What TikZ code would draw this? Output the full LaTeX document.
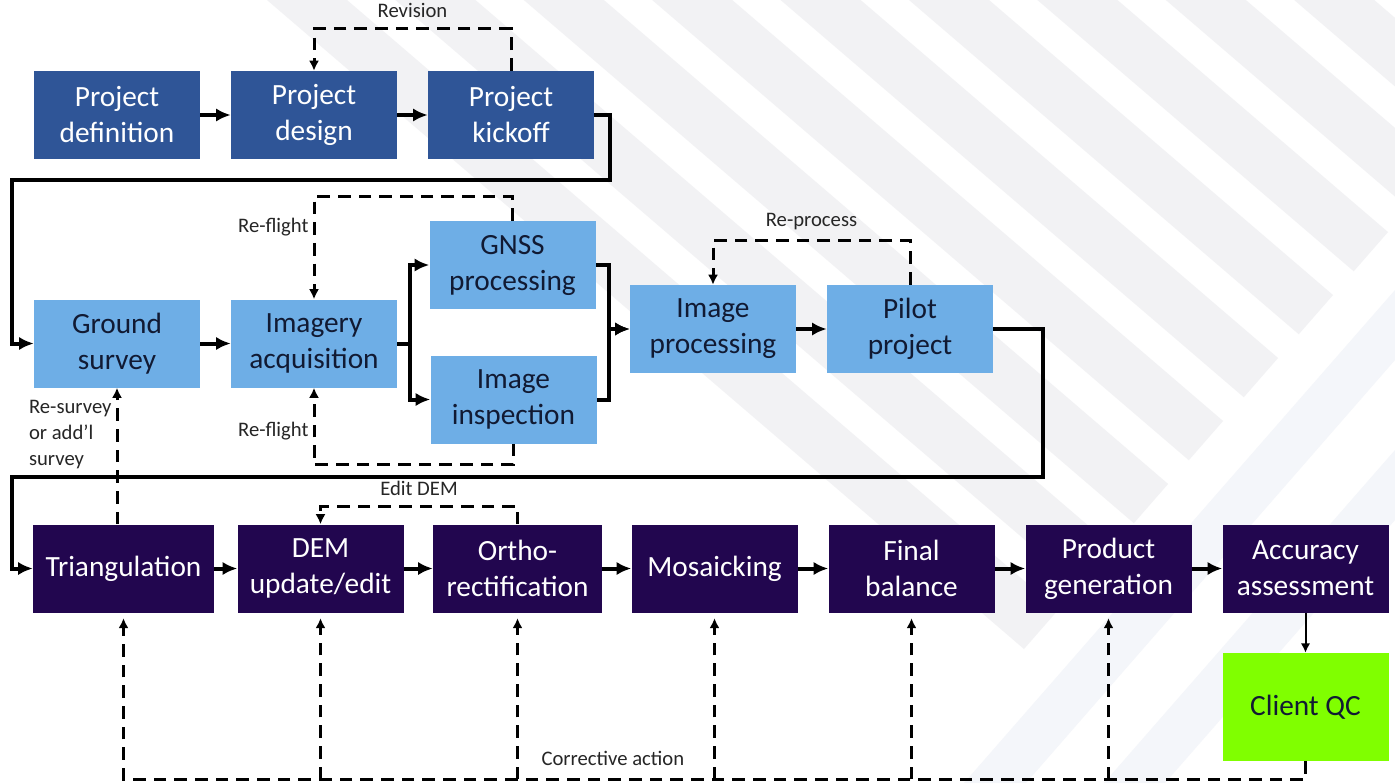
\documentclass[tikz,border=0pt]{standalone}
\usepackage{fontspec}
\setmainfont{Carlito}
\usetikzlibrary{shapes,arrows.meta,calc,positioning}
\definecolor{navyblock}{HTML}{2F5597}
\definecolor{skyblock}{HTML}{6EAEE6}
\definecolor{plumblock}{HTML}{22064F}
\definecolor{limeblock}{HTML}{80FF00}
\definecolor{inkdark}{HTML}{111A33}
\definecolor{stripegrey}{HTML}{F2F2F4}
\definecolor{stripeblue}{HTML}{F4F6FA}
\tikzstyle{line} = [draw, line width=3pt, -{Latex[length=11pt,width=10pt]}]
\tikzstyle{thinline} = [draw, line width=1.5pt, -{Latex[length=7pt,width=7pt]}]
\tikzstyle{dline} = [draw, line width=2.25pt, dash pattern=on 9.5pt off 6pt, -{Latex[length=7.5pt,width=7.5pt]}]
\tikzstyle{block} = [rectangle, align=center, inner sep=0pt, minimum width=124.5pt, minimum height=66pt, font=\fontsize{22}{27}\selectfont]
\tikzstyle{plan} = [block, fill=navyblock, text=white]
\tikzstyle{field} = [block, fill=skyblock, text=inkdark]
\tikzstyle{produce} = [block, fill=plumblock, text=white]
\tikzstyle{lbl} = [font=\fontsize{15.5}{19.5}\selectfont, text=black!85, inner sep=3pt]

\begin{document}
\begin{tikzpicture}[x=0.75pt, y=-0.75pt, node distance=147.75pt]
        \useasboundingbox (0,0) rectangle (1395,783);
        % background stripes
        \fill[white] (0,0) rectangle (1395,783);
        \begin{scope}
            \clip (267,0) -- (1395,0) -- (1395,224) -- (1024,649) -- cycle;
            \foreach \k in {0,...,8}
                \fill[stripegrey] ({267+128.4*\k},0) -- ++(80,0) -- ++(913,783) -- ++(-80,0) -- cycle;
        \end{scope}
        \fill[stripeblue] (1395,290) -- (1395,360) -- (1026,783) -- (964,783) -- cycle;
        \fill[stripeblue] (1395,450) -- (1395,520) -- (1165,783) -- (1104,783) -- cycle;

        % planning
        \node[plan] (define) at (117,115) {Project\\definition};
        \node[plan, right of=define] (design) {Project\\design};
        \node[plan, right of=design] (kickoff) {Project\\kickoff};
        % acquisition
        \node[field] (ground) at (117,343.5) {Ground\\survey};
        \node[field, right of=ground] (imagery) {Imagery\\acquisition};
        \node[field] (gnss) at (512.5,265) {GNSS\\processing};
        \node[field] (inspect) at (513.5,399.5) {Image\\inspection};
        \node[field] (improc) at (713,329) {Image\\processing};
        \node[field, right of=improc] (pilot) {Pilot\\project};
        % production
        \node[produce, minimum width=135.75pt] (triang) at (123.5,568.5) {Triangulation};
        \node[produce, right of=triang] (dem) {DEM\\update/edit};
        \node[produce, right of=dem, minimum width=126.75pt] (ortho) {Ortho-\\rectification};
        \node[produce, right of=ortho] (mosaic) {Mosaicking};
        \node[produce, right of=mosaic] (balance) {Final\\balance};
        \node[produce, right of=balance] (product) {Product\\generation};
        \node[produce, right of=product] (accuracy) {Accuracy\\assessment};
        \node[block, fill=limeblock, text=inkdark, minimum height=81pt, below=30pt of accuracy] (clientqc) {Client QC};

        \coordinate (turnA) at (610,180);
        \coordinate (turnB) at (12,180);
        \coordinate (turnC) at (1043,477);
        \coordinate (turnD) at (12,477);

        \path[line] (define) -- (design);
        \path[line] (design) -- (kickoff);
        \path[dline] (kickoff.north) -- ++(0,-42) -| node[lbl, above=4pt, pos=0.25] {Revision} (design.north);
        \path[line] (kickoff.east) -| (turnA) -- (turnB) |- (ground.west);

        \path[line] (ground) -- (imagery);
        \path[line] (imagery.east) -- ++(13,0) |- (gnss.west);
        \path[line] (imagery.east) -- ++(13,0) |- (inspect.west);
        \path[line] (gnss.east) -- ++(13,0) |- (improc.west);
        \path[line] (inspect.east) -- ++(12,0) |- (improc.west);
        \path[dline] (gnss.north) -- ++(0,-24) -| node[lbl, left, pos=0.65] {Re-flight} (imagery.north);
        \path[dline] (inspect.south) -- ++(0,21) -| node[lbl, left, pos=0.72] {Re-flight} (imagery.south);
        \path[line] (improc) -- (pilot);
        \path[dline] (pilot.north) -- ++(0,-44) -| node[lbl, above=4pt, pos=0.25] {Re-process} (improc.north);
        \path[line] (pilot.east) -| (turnC) -- (turnD) |- (triang.west);

        \path[dline] (ground.south |- triang.north) -- node[lbl, left, pos=0.66, align=left] {Re-survey\\or add’l\\survey} (ground.south);
        \foreach \a/\b in {triang/dem, dem/ortho, ortho/mosaic, mosaic/balance, balance/product, product/accuracy}
            \path[line] (\a) -- (\b);
        \path[dline] (ortho.north) -- ++(0,-18) -| node[lbl, above=4pt, pos=0.25] {Edit DEM} (dem.north);
        \path[thinline] (accuracy) -- (clientqc);

        % corrective action loop
        \path[dline, shorten >=4pt] (clientqc.south) -- ++(0,18) coordinate (fixrow) -| node[lbl, above=6pt, pos=0.293] {Corrective action} (triang.south);
        \foreach \n in {dem, ortho, mosaic, balance, product}
            \path[dline, shorten >=4pt] (\n.south |- fixrow) -- (\n.south);
    \end{tikzpicture}
\end{document}
